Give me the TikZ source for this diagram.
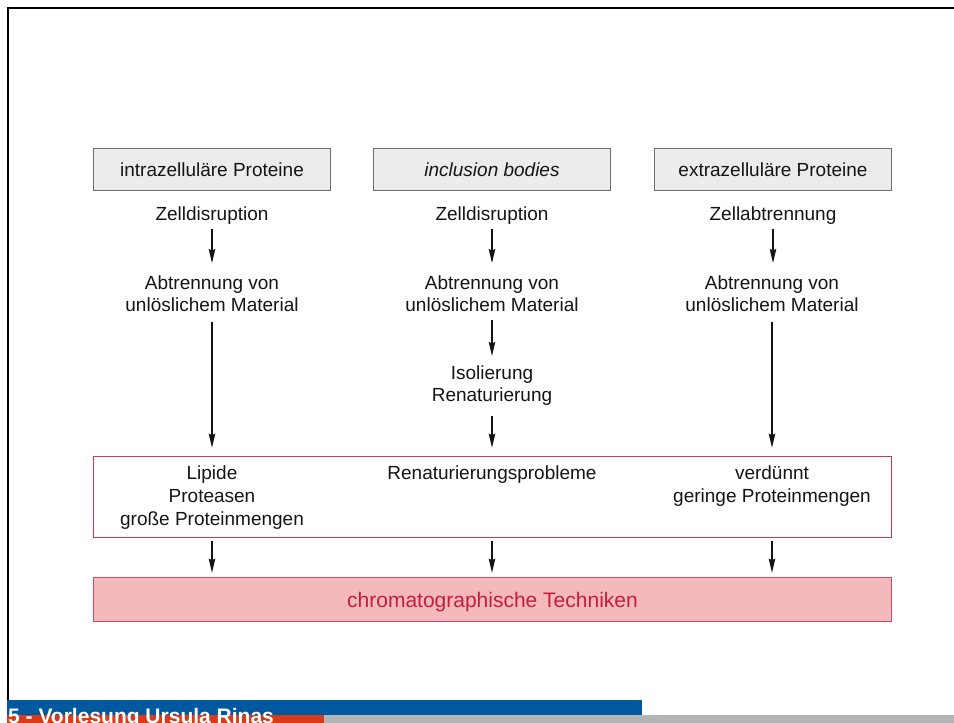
\documentclass[tikz,border=0pt]{standalone}
\usepackage{fontspec}
\setmainfont{Liberation Sans}
\usetikzlibrary{arrows.meta}
\definecolor{txt}{HTML}{151515}
\definecolor{boxfill}{HTML}{ECECEC}
\definecolor{boxline}{HTML}{6E6E6E}
\definecolor{midline}{HTML}{C83C52}
\definecolor{chromfill}{HTML}{F4B9BD}
\definecolor{chromline}{HTML}{D24A62}
\definecolor{chromtext}{HTML}{C41E3A}
\definecolor{footblue}{HTML}{00589E}
\definecolor{footred}{HTML}{D93A1A}
\definecolor{footgray}{HTML}{B4B4B4}
\tikzset{
  topbox/.style={draw=boxline, fill=boxfill, line width=1.2pt, minimum width=237.5pt,
    minimum height=42.5pt, inner sep=0pt, text=txt, font=\fontsize{19}{22.5}\selectfont},
  lbl/.style={align=center, inner sep=0pt, text=txt, font=\fontsize{19}{22.5}\selectfont},
  midlbl/.style={align=center, inner sep=0pt, text=txt, font=\fontsize{19}{23}\selectfont},
  arr/.style={-{Stealth[length=14pt,width=6.5pt,inset=1.5pt]}, line width=1.2pt, draw=txt},
  midbox/.style={draw=midline, fill=white, line width=1.2pt, minimum width=798pt,
    minimum height=80.5pt, inner sep=0pt},
  chrombox/.style={draw=chromline, fill=chromfill, line width=1.2pt, minimum width=798.5pt,
    minimum height=44pt, inner sep=0pt, text height=18pt, text depth=2pt,
    text=chromtext, font=\fontsize{21}{25}\selectfont},
  footer/.style={inner sep=0pt, text=white, font=\fontsize{21}{25}\selectfont\bfseries}
}
\begin{document}
\begin{tikzpicture}[x=1pt,y=-1pt]
\useasboundingbox (0,0) rectangle (954,723);
\fill[white] (0,0) rectangle (954,723);
% frame
\draw[black, line width=2.6pt] (6.7,8) -- (954,8);
\draw[black, line width=2.6pt] (8,6.7) -- (8,702);
% footer
\fill[footblue] (6.7,700) rectangle (642,715);
\fill[footred] (6.7,715) rectangle (324,723);
\fill[footgray] (324,715) rectangle (954,723);
\node[footer, anchor=base west] (foot) at (8,723.5) {5 - Vorlesung Ursula Rinas};
% top boxes
\node[topbox] (t1) at (212,169.5) {intrazelluläre Proteine};
\node[topbox] (t2) at (492,169.5) {\itshape inclusion bodies};
\node[topbox] (t3) at (773,169.5) {extrazelluläre Proteine};
% first steps
\node[lbl] (z1) at (212,215.2) {Zelldisruption};
\node[lbl] (z2) at (492,215.2) {Zelldisruption};
\node[lbl] (z3) at (773,215.2) {Zellabtrennung};
% second steps
\node[lbl] (a1) at (212,293.5) {Abtrennung von\\unlöslichem Material};
\node[lbl] (a2) at (492,293.5) {Abtrennung von\\unlöslichem Material};
\node[lbl] (a3) at (772,293.5) {Abtrennung von\\unlöslichem Material};
% inclusion bodies extra step
\node[lbl] (i2) at (492,385.7) {Isolierung\\Renaturierung};
% middle box
\node[midbox] (m) at (492.3,497) {};
\node[midlbl] (l1) at (212,497.2) {Lipide\\Proteasen\\große Proteinmengen};
\node[midlbl] (l2) at (492,474.2) {Renaturierungsprobleme};
\node[midlbl] (l3) at (772,485.7) {verdünnt\\geringe Proteinmengen};
% bottom box
\node[chrombox] (b) at (492.5,599.8) {chromatographische Techniken};
% arrows
\draw[arr, shorten <=5pt, shorten >=12pt] (z1) -- (z1 |- a1.north);
\draw[arr, shorten <=5pt, shorten >=12pt] (z2) -- (z2 |- a2.north);
\draw[arr, shorten <=5pt, shorten >=12pt] (z3) -- (z3 |- a3.north);
\draw[arr, shorten <=10pt, shorten >=8.5pt] (a1) -- (a1 |- m.north);
\draw[arr, shorten <=8.5pt, shorten >=9.5pt] (a2) -- (i2);
\draw[arr, shorten <=9.5pt, shorten >=8.5pt] (i2) -- (i2 |- m.north);
\draw[arr, shorten <=10pt, shorten >=8.5pt] (a3) -- (a3 |- m.north);
\draw[arr, shorten <=3pt, shorten >=4.5pt] (m.south -| a1) -- (b.north -| a1);
\draw[arr, shorten <=3pt, shorten >=4.5pt] (m.south -| i2) -- (b.north -| i2);
\draw[arr, shorten <=3pt, shorten >=4.5pt] (m.south -| a3) -- (b.north -| a3);
\end{tikzpicture}
\end{document}
